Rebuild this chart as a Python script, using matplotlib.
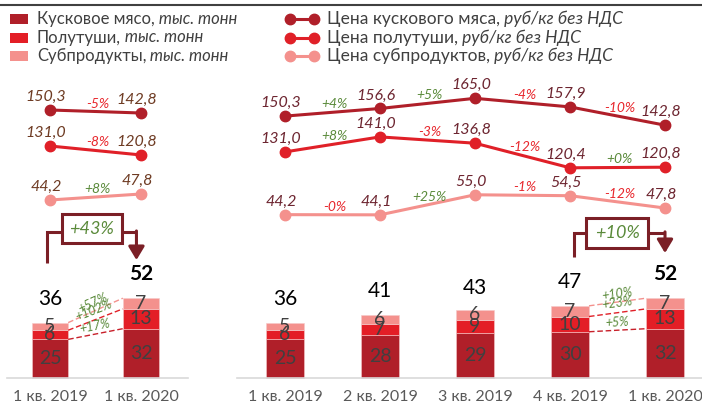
import math
import matplotlib
matplotlib.use('Agg')
import matplotlib.pyplot as plt
from matplotlib.patches import Rectangle
from matplotlib.lines import Line2D

plt.rcParams['font.family'] = ['Lato', 'Noto Sans', 'DejaVu Sans']

W, H = 702, 409

# ---- данные ----
quarters = ['1 кв. 2019', '2 кв. 2019', '3 кв. 2019', '4 кв. 2019', '1 кв. 2020']
vol_kus = [25, 28, 29, 30, 32]
vol_pol = [6, 7, 9, 10, 13]
vol_sub = [5, 6, 6, 7, 7]
vol_total = [36, 41, 43, 47, 52]
price_kus = [150.3, 156.6, 165.0, 157.9, 142.8]
price_pol = [131.0, 141.0, 136.8, 120.4, 120.8]
price_sub = [44.2, 44.1, 55.0, 54.5, 47.8]
# изменения цен кв/кв
chg_kus = ['+4%', '+5%', '-4%', '-10%']
chg_pol = ['+8%', '-3%', '-12%', '+0%']
chg_sub = ['-0%', '+25%', '-1%', '-12%']
# изменения цен год к году
yoy_price = {'kus': ['-5%'], 'pol': ['-8%'], 'sub': ['+8%']}
# рост объёмов (кусковое, полутуши, субпродукты)
yoy_vol = ['+17%', '+102%', '+57%']
qoq_vol = ['+5%', '+23%', '+10%']
yoy_total = '+43%'
qoq_total = '+10%'

C_KUS = '#B01F29'
C_POL = '#E31E26'
C_SUB = '#F4918D'
C_TXT = '#404040'
C_BR = '#7B1F26'
C_GREEN = '#5A8A3A'
C_NEG = '#E8262C'

fig = plt.figure(figsize=(W / 100, H / 100), dpi=100)


def px_lim(v0, y0, s):
    # пределы оси, чтобы значение v0 было на пикселе y0 (сверху), s пикс на единицу
    ymax = v0 + y0 / s
    return ymax - H / s, ymax


def fmt(v):
    return f'{v:.1f}'.replace('.', ',')


def pct_color(t):
    return C_NEG if t.startswith('-') else C_GREEN


def draw_panel(x0_px, x1_px, first_px, step_px, idx, lims, changes, label_col,
               seg_growth, growth, br):
    ax = fig.add_axes([x0_px / W, 0, (x1_px - x0_px) / W, 1])
    n = len(idx)
    xs = list(range(n))
    ax.set_xlim(-(first_px - x0_px) / step_px, (x1_px - first_px) / step_px)
    ax.set_ylim(*px_lim(0, 377.5, 1.525))
    kus = [vol_kus[i] for i in idx]
    pol = [vol_pol[i] for i in idx]
    sub = [vol_sub[i] for i in idx]
    tot = [vol_total[i] for i in idx]
    bw = 0.4
    b1 = [k + p for k, p in zip(kus, pol)]
    ax.bar(xs, kus, bw, color=C_KUS, edgecolor='#F6C9C9', linewidth=0.4)
    ax.bar(xs, pol, bw, bottom=kus, color=C_POL, edgecolor='#F6C9C9', linewidth=0.4)
    ax.bar(xs, sub, bw, bottom=b1, color=C_SUB, edgecolor='#F6C9C9', linewidth=0.4)
    for x, k, p, s, t in zip(xs, kus, pol, sub, tot):
        ax.text(x, k / 2, str(k), ha='center', va='center', fontsize=14, color=C_TXT)
        ax.text(x, k + p / 2, str(p), ha='center', va='center', fontsize=14, color=C_TXT)
        ax.text(x, k + p + s / 2, str(s), ha='center', va='center', fontsize=14, color=C_TXT)
    for j, (x, t) in enumerate(zip(xs, tot)):
        ax.annotate(str(t), (x, t), xytext=(0, 24), textcoords='offset pixels',
                    ha='center', va='center', fontsize=15, color='black',
                    fontweight='bold' if j == n - 1 else 'normal')

    # пунктир между двумя последними столбцами
    levels = [(kus, '#C8202A'), (b1, '#E02028'), (tot, C_SUB)]
    offs = [2, 4, 2]
    for (lv, col), g, o in zip(levels, seg_growth, offs):
        xa, xb = xs[-2] + bw / 2, xs[-1] - bw / 2
        ya, yb = lv[-2], lv[-1]
        ax.plot([xa, xb], [ya, yb], color=col, lw=1, dashes=(4, 2))
        pa = ax.transData.transform((xa, ya))
        pb = ax.transData.transform((xb, yb))
        ang = math.degrees(math.atan2(pb[1] - pa[1], pb[0] - pa[0]))
        ax.annotate(g, ((xa + xb) / 2, (ya + yb) / 2), xytext=(0, o),
                    textcoords='offset pixels', ha='center', va='bottom',
                    rotation=ang, rotation_mode='anchor', fontsize=9,
                    style='italic', color=C_GREEN)

    # скобка с общим ростом
    xa, xb, ya, yb, ytop, bx0, bx1, by0, by1 = br
    ax.plot([xa, xa, bx0], [ya, ytop, ytop], color=C_BR, lw=2.2,
            solid_joinstyle='miter', solid_capstyle='butt')
    ax.add_patch(Rectangle((bx0, by0), bx1 - bx0, by1 - by0, facecolor='white',
                           edgecolor=C_BR, lw=2.2, zorder=3))
    ax.plot([bx1, xb], [ytop, ytop], color=C_BR, lw=2.2, solid_capstyle='butt')
    ax.annotate('', xy=(xb, yb), xytext=(xb, ytop + 0.7),
                arrowprops=dict(arrowstyle='-|>,head_width=0.3,head_length=0.5',
                                color=C_BR, lw=2.2, mutation_scale=16,
                                shrinkA=0, shrinkB=0))
    ax.text((bx0 + bx1) / 2, (by0 + by1) / 2, growth, ha='center', va='center',
            fontsize=13, style='italic', color=C_GREEN, zorder=4)

    ax.set_xticks(xs, [quarters[i] for i in idx])
    ax.tick_params(axis='x', length=0, pad=9, labelsize=11.5, labelcolor='#595959')
    ax.set_yticks([])
    for sp in ['top', 'left', 'right']:
        ax.spines[sp].set_visible(False)
    ax.spines['bottom'].set_position(('data', 0))
    ax.spines['bottom'].set_color('#D9D9D9')
    ax.spines['bottom'].set_linewidth(1.2)
    ax.patch.set_visible(False)

    # линии цен, у каждой своя шкала
    series = [([price_kus[i] for i in idx], C_KUS),
              ([price_pol[i] for i in idx], '#E02028'),
              ([price_sub[i] for i in idx], C_SUB)]
    for (vals, col), lim, chg in zip(series, lims, changes):
        axl = ax.twinx()
        axl.set_ylim(*lim)
        axl.axis('off')
        axl.plot(xs, vals, color=col, lw=2.2, marker='o', markersize=7.5, zorder=3)
        for x, v in zip(xs, vals):
            axl.annotate(fmt(v), (x, v), xytext=(-4, 13), textcoords='offset pixels',
                         ha='center', va='center', fontsize=11.5, style='italic',
                         color=label_col)
        for j, c in enumerate(chg):
            axl.annotate(c, ((xs[j] + xs[j + 1]) / 2, (vals[j] + vals[j + 1]) / 2),
                         xytext=(2, 8), textcoords='offset pixels', ha='center',
                         va='center', fontsize=10, style='italic', color=pct_color(c))
    return ax


# левая панель: год к году
draw_panel(7, 188, 50, 91, [0, 4],
           [px_lim(150.3, 110, 0.4), px_lim(131.0, 146, 0.88), px_lim(44.2, 200, 1.67)],
           [yoy_price['kus'], yoy_price['pol'], yoy_price['sub']], '#6E3B23',
           yoy_vol, yoy_total,
           (-0.035, 0.95, 75, 77, 95.4, 0.13, 0.79, 88.2, 107.2))

# правая панель: по кварталам
draw_panel(237, 702, 285, 95, [0, 1, 2, 3, 4],
           [px_lim(154.52, 111, 1.21), px_lim(130.0, 153.4, 1.5), px_lim(49.12, 205.6, 1.84)],
           [chg_kus, chg_pol, chg_sub], '#6D2530',
           qoq_vol, qoq_total,
           (3.04, 4.0, 79, 81.6, 94.8, 3.17, 3.82, 84.9, 104.6))

# верхняя линия
fig.add_artist(Line2D([0, 1], [1 - 5 / H, 1 - 5 / H], color=C_TXT, lw=1.5,
                      transform=fig.transFigure))

# легенды
rows = [19, 37.5, 56]
left_items = [('Кусковое мясо,', C_KUS), ('Полутуши,', C_POL), ('Субпродукты,', C_SUB)]
for (lab, col), y in zip(left_items, rows):
    fig.add_artist(Rectangle((10 / W, 1 - (y + 5) / H), 18 / W, 10 / H,
                             facecolor=col, edgecolor='none', transform=fig.transFigure))
    t = fig.text(37 / W, 1 - y / H, lab, ha='left', va='center', fontsize=12, color=C_TXT)
    plt.annotate(' тыс. тонн', xy=(1, 0.5), xycoords=t, ha='left', va='center',
                 fontsize=12, style='italic', color=C_TXT)

right_items = [('Цена кускового мяса,', C_KUS), ('Цена полутуши,', '#E02028'),
               ('Цена субпродуктов,', C_SUB)]
for (lab, col), y in zip(right_items, rows):
    fig.add_artist(Line2D([290 / W, 314 / W], [1 - y / H, 1 - y / H], color=col, lw=2.2,
                          marker='o', markersize=7.5, transform=fig.transFigure))
    t = fig.text(327 / W, 1 - y / H, lab, ha='left', va='center', fontsize=12.5, color=C_TXT)
    plt.annotate(' руб/кг без НДС', xy=(1, 0.5), xycoords=t, ha='left', va='center',
                 fontsize=12.5, style='italic', color=C_TXT)

fig.savefig('out.png', dpi=100)
